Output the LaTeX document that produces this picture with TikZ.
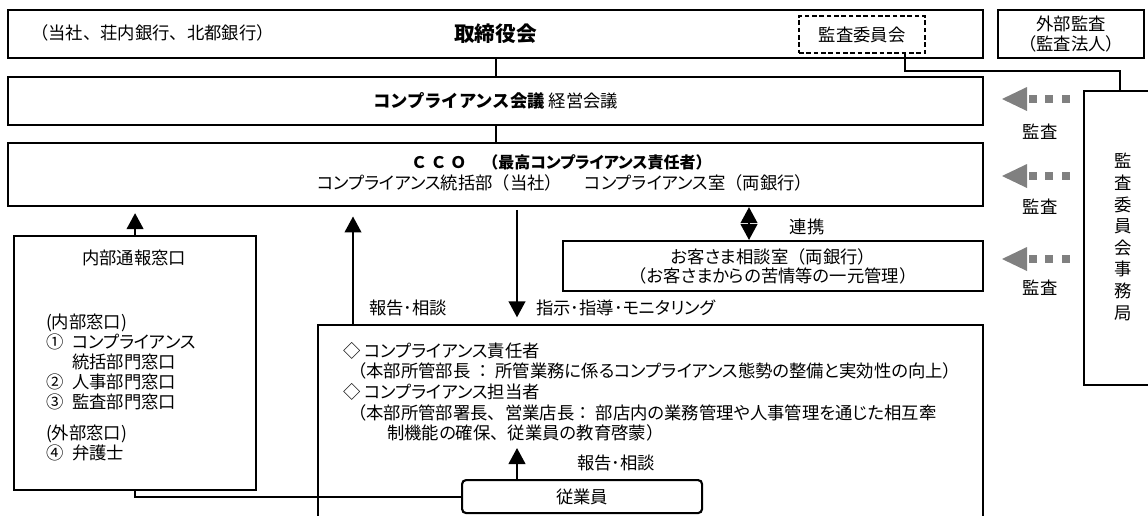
\documentclass[tikz,border=0pt]{standalone}
\usepackage{fontspec}
\setmainfont{Noto Sans CJK JP}
\usetikzlibrary{arrows.meta,calc}

\definecolor{auditgray}{RGB}{128,128,128}
\newcommand{\pxu}{0.75pt}
\newcommand{\bodyfont}{\fontsize{13}{15}\selectfont}
% proportional kana
\newcommand{\pk}[1]{{\addfontfeatures{RawFeature=+palt}#1}}

\tikzset{every picture/.style={line width=1.6pt}}
\tikzset{
  box/.style={draw, line width=1.6pt, inner sep=0pt, align=center, anchor=north west, font=\bodyfont},
  dashbox/.style={box, dash pattern=on 3.5pt off 2pt},
  txt/.style={inner sep=0pt, align=left, font=\bodyfont},
  conn/.style={line width=1.6pt},
  arr/.style={conn, -{Triangle[width=12.5pt,length=12pt]}},
  darr/.style={conn, {Triangle[width=12.5pt,length=12pt]}-{Triangle[width=12.5pt,length=12pt]}},
}

\begin{document}
\begin{tikzpicture}[x=0.75pt,y=0.75pt,yscale=-1]
	\useasboundingbox (0,0) rectangle (1148,515);
	
	% Boxes
	\node[box, minimum width=975*\pxu, minimum height=48*\pxu, font=\bfseries\fontsize{15.5}{18}\selectfont] (board) at (7,9) {取締役会};
	\node[dashbox, minimum width=126*\pxu, minimum height=37*\pxu] (acom) at (798,15) {監査委員会};
	\node[box, minimum width=146*\pxu, minimum height=48*\pxu, font=\fontsize{13}{14.3}\selectfont] (ext) at (997,9) {外部監査\\（監査法人）};
	\node[box, minimum width=975*\pxu, minimum height=48*\pxu] (meeting) at (7,76) {{\bfseries コンプライアンス会議}\ 経営会議};
	\node[box, minimum width=975*\pxu, minimum height=63*\pxu] (cco) at (7,142) {};
	\node[box, minimum width=72*\pxu, minimum height=294*\pxu] (office) at (1083,90) {};
	\node[box, minimum width=242*\pxu, minimum height=254*\pxu] (hotline) at (13,235) {};
	\node[box, minimum width=420*\pxu, minimum height=50*\pxu, font=\fontsize{13}{14.3}\selectfont] (consult) at (562,240) {\pk{お客さま相談室}（両銀行）\\（\pk{お客さまからの苦情等の一元管理}）};
	\node[box, minimum width=665*\pxu, minimum height=210*\pxu] (duty) at (317,324) {};
	\node[box, rounded corners=3pt, minimum width=240*\pxu, minimum height=33*\pxu] (staff) at (461,479) {従業員};
	
	% Text Node
	\node[txt, anchor=west] (firms) at (30,33) {（当社、荘内銀行、北都銀行）};
	% Text Node
	\node[txt, anchor=west, font=\bfseries\fontsize{12}{14}\selectfont] (ccotitle) at (410,162) {Ｃ Ｃ Ｏ　（最高\pk{コンプライアンス}責任者）};
	% Text Node
	\node[txt, anchor=west] (ccodept) at (316,183) {\pk{コンプライアンス}統括部（当社）\hspace{1.3em}\pk{コンプライアンス}室（両銀行）};
	% Text Node
	\node[txt] (hottitle) at (134,258) {内部通報窓口};
	% Text Node
	\node[txt, anchor=north west] (hotbody) at (45,313) {(内部窓口)\\
		①\hspace{0.5em}\pk{コンプライアンス}\\
		\hspace{1.5em}統括部門窓口\\
		②\hspace{0.5em}人事部門窓口\\
		③\hspace{0.5em}監査部門窓口\\[8pt]
		(外部窓口)\\
		④\hspace{0.5em}弁護士};
	% Text Node
	\node[txt, anchor=north west, font=\fontsize{13}{15.5}\selectfont] (dutybody) at (342,341) {◇ \pk{コンプライアンス}責任者\\
		\hspace{0.35em}（本部所管部長 ： \pk{所管業務に係るコンプライアンス態勢の整備と実効性の向上}）\\
		◇ \pk{コンプライアンス}担当者\\
		\hspace{0.35em}（本部所管部署長、営業店長： \pk{部店内の業務管理や人事管理を通じた相互牽}\\
		\hspace{2.55em}\pk{制機能の確保}、\pk{従業員の教育啓蒙}）};
	% Text Node
	\node[txt, align=center, font=\fontsize{13}{16.2}\selectfont] (officetxt) at (1123,237) {監\\査\\委\\員\\会\\事\\務\\局};
	
	% Straight Lines
	\draw[conn] (board.south) -- (meeting.north);
	\draw[conn] (meeting.south) -- (cco.north);
	\draw[conn] ($(acom.south)+(43,0)$) -- ++(0,17) -| (office.north);
	\draw[arr, shorten >=4.5pt] (hotline.north) -- (hotline.north |- cco.south);
	\draw[conn] (hotline.south) |- (staff.west);
	
	\coordinate (up1) at ($(duty.north west)+(36,0)$);
	\coordinate (dn1) at ($(duty.north west)+(200,0)$);
	\draw[arr, shorten >=7pt] (up1) -- (up1 |- cco.south);
	\draw[arr, shorten <=2pt, shorten >=5pt] (dn1 |- cco.south) -- (dn1);
	\node[txt] (rep1) at (408,308) {報告･相談};
	\node[txt, anchor=west] (instr) at (535,308) {指示･指導･\pk{モニタリング}};
	
	\coordinate (lk) at ($(consult.north west)+(187,0)$);
	\draw[darr] (lk |- cco.south) -- (lk);
	\node[txt] (link) at (807,227) {連携};
	
	\coordinate (st) at ($(staff.north west)+(56,0)$);
	\coordinate (sttip) at ($(st)+(0,-31)$);
	\draw[arr] (st) -- (sttip);
	\node[txt] (rep2) at (616,463) {報告･相談};
	
	% Audit arrows
	\foreach \i/\ay/\ly in {1/99/132, 2/176/207, 3/259/288} {
		\fill[auditgray] (1002,\ay) -- (1027,\ay-12) -- (1027,\ay+12) -- cycle;
		\foreach \sx in {1029,1045,1062}
			\fill[auditgray] (\sx,\ay-4) rectangle ++(8,8);
		\node[txt] (audit\i) at (1040,\ly) {監査};
	}
	
\end{tikzpicture}
\end{document}
